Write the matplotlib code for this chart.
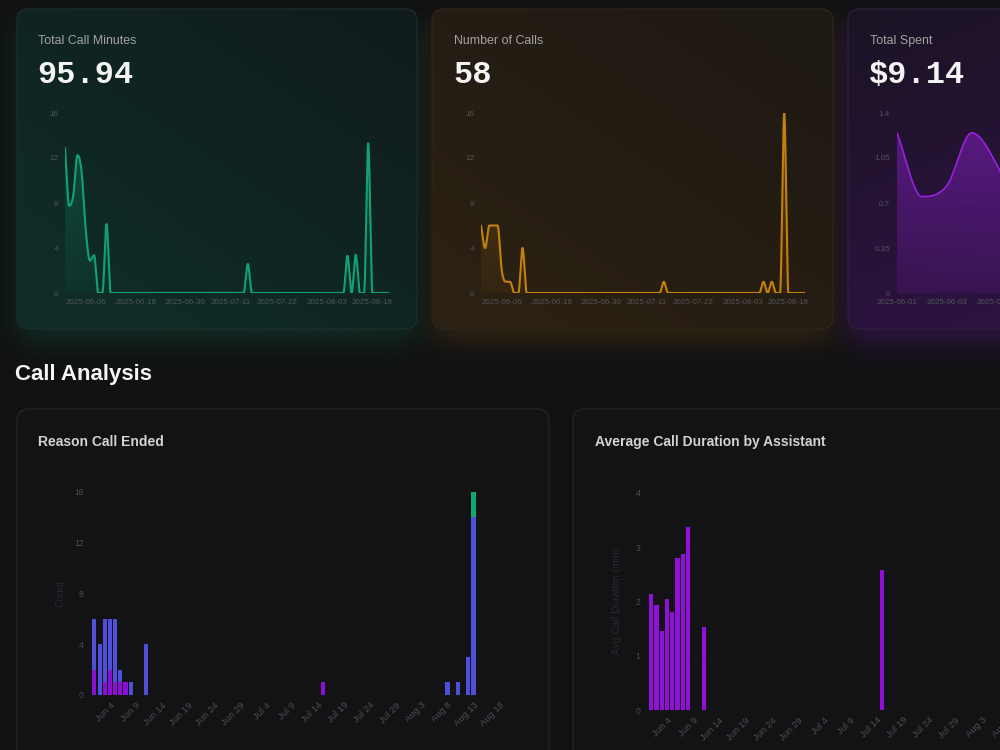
import numpy as np
import pandas as pd
import matplotlib
matplotlib.use('Agg')
import matplotlib.pyplot as plt
import matplotlib.dates as mdates
from matplotlib.colors import to_rgb
from matplotlib.patches import FancyBboxPatch, Polygon

plt.rcParams['font.family'] = ['Liberation Sans', 'DejaVu Sans']

# ---------------- data ----------------
# days on which calls happened (used by the two timeline cards)
call_days = ['2025-06-01', '2025-06-02', '2025-06-03', '2025-06-04', '2025-06-05',
             '2025-06-06', '2025-06-07', '2025-06-08', '2025-06-11', '2025-07-15',
             '2025-08-08', '2025-08-10', '2025-08-13']
minutes_per_day = [12.9, 7.75, 8.7, 12.25, 10.75, 5.6, 2.88, 3.36, 6.12, 2.58, 3.3, 3.4, 13.3]
calls_per_day = [6, 4, 6, 6, 6, 2, 1, 1, 4, 1, 1, 1, 16]

# category axis of the timeline cards
timeline = (list(pd.date_range('2025-06-01', '2025-08-13').strftime('%Y-%m-%d'))
            + list(pd.date_range('2025-08-18', '2025-08-22').strftime('%Y-%m-%d')))
timeline_ticks = ['2025-06-06', '2025-06-18', '2025-06-30', '2025-07-11',
                  '2025-07-22', '2025-08-03', '2025-08-18']

# spend card (one category per day with calls)
cost_days = ['2025-06-01', '2025-06-02', '2025-06-03', '2025-06-04', '2025-06-05',
             '2025-06-06', '2025-06-07', '2025-06-08', '2025-06-11', '2025-07-15',
             '2025-08-08', '2025-08-10', '2025-08-12', '2025-08-13']
cost_per_day = [1.245, 0.75, 0.835, 1.245, 1.0, 0.53, 0.27, 0.32, 0.58, 0.25,
                0.31, 0.32, 0.30, 1.18]

# reason call ended (stacked)
bar_days = ['2025-06-01', '2025-06-02', '2025-06-03', '2025-06-04', '2025-06-05',
            '2025-06-06', '2025-06-07', '2025-06-08', '2025-06-11', '2025-07-15',
            '2025-08-08', '2025-08-10', '2025-08-12', '2025-08-13']
customer_ended = [2, 0, 1, 2, 1, 1, 1, 0, 0, 1, 0, 0, 0, 0]
assistant_ended = [4, 4, 5, 4, 5, 1, 0, 1, 4, 0, 1, 1, 3, 14]
silence_timeout = [0, 0, 0, 0, 0, 0, 0, 0, 0, 0, 0, 0, 0, 2]

# average call duration
avg_days = ['2025-06-01', '2025-06-02', '2025-06-03', '2025-06-04', '2025-06-05',
            '2025-06-06', '2025-06-07', '2025-06-08', '2025-06-11', '2025-07-15']
avg_minutes = [2.13, 1.93, 1.45, 2.04, 1.80, 2.79, 2.88, 3.37, 1.53, 2.58]

bar_ticks = pd.date_range('2025-06-04', '2025-08-18', freq='5D')

# ---------------- helpers ----------------
W, H = 1000, 750
BG = '#111113'


def px_axes(x0, y0, x1, y1):
    ax = fig.add_axes([x0 / W, 1 - y1 / H, (x1 - x0) / W, (y1 - y0) / H])
    ax.set_facecolor('none')
    for s in ax.spines.values():
        s.set_visible(False)
    ax.tick_params(length=0)
    return ax


def monotone(x, y, n=30):
    # smooth path through the points (monotone cubic, like chart.js)
    x = np.asarray(x, float)
    y = np.asarray(y, float)
    d = np.diff(y) / np.diff(x)
    m = np.zeros_like(y)
    m[0], m[-1] = d[0], d[-1]
    for i in range(1, len(y) - 1):
        if np.sign(d[i - 1]) != np.sign(d[i]):
            m[i] = 0
        else:
            m[i] = (d[i - 1] + d[i]) / 2
    for i in range(len(d)):
        if abs(d[i]) < 1e-9:
            m[i] = m[i + 1] = 0
            continue
        a, b = m[i] / d[i], m[i + 1] / d[i]
        sq = a * a + b * b
        if sq > 9:
            t = 3 / np.sqrt(sq)
            m[i], m[i + 1] = a * t * d[i], b * t * d[i]
    xs, ys = [], []
    for i in range(len(d)):
        h = x[i + 1] - x[i]
        t = np.linspace(0, 1, n, endpoint=False)
        h00 = 2 * t**3 - 3 * t**2 + 1
        h10 = t**3 - 2 * t**2 + t
        h01 = -2 * t**3 + 3 * t**2
        h11 = t**3 - t**2
        xs.append(x[i] + t * h)
        ys.append(h00 * y[i] + h10 * h * m[i] + h01 * y[i + 1] + h11 * h * m[i + 1])
    xs.append([x[-1]])
    ys.append([y[-1]])
    return np.concatenate(xs), np.concatenate(ys)


def area_line(ax, x, y, color, ymax, a_top, a_bot, lw):
    sx, sy = monotone(x, y)
    ax.plot(sx, sy, color=color, lw=lw, zorder=3, solid_capstyle='round')
    poly = Polygon([(sx[0], 0)] + list(zip(sx, sy)) + [(sx[-1], 0)],
                   closed=True, facecolor='none', edgecolor='none')
    ax.add_patch(poly)
    grad = np.zeros((100, 1, 4))
    grad[:, :, :3] = to_rgb(color)
    grad[:, :, 3] = np.linspace(a_bot, a_top, 100)[:, None]
    im = ax.imshow(grad, aspect='auto', origin='lower',
                   extent=[sx[0], sx[-1], 0, ymax], zorder=2)
    im.set_clip_path(poly)


def glow(x0, y0, x1, y1, color, strength, s, dy):
    xa, xb = x0 - 3 * s, x1 + 3 * s
    ya, yb = y0 - 3 * s + dy, y1 + 3 * s + dy
    X, Y = np.meshgrid(np.linspace(xa, xb, 300), np.linspace(ya, yb, 200))
    fx = 0.5 * (np.tanh((X - x0) / s) - np.tanh((X - x1) / s))
    fy = 0.5 * (np.tanh((Y - y0 - dy) / s) - np.tanh((Y - y1 - dy) / s))
    img = np.zeros(X.shape + (4,))
    img[..., :3] = to_rgb(color)
    img[..., 3] = strength * fx * fy
    bg.imshow(img, extent=(xa, xb, ya, yb), origin='lower', aspect='auto',
              zorder=1, interpolation='bilinear')


def card(x0, y0, x1, y1, c_a, c_b, border, mode):
    patch = FancyBboxPatch((x0, y0), x1 - x0, y1 - y0,
                           boxstyle='round,pad=0,rounding_size=12',
                           facecolor='none', edgecolor=border, lw=1, zorder=3)
    bg.add_patch(patch)
    u, v = np.meshgrid(np.linspace(0, 1, 80), np.linspace(0, 1, 80))
    if mode == 'bl':
        t = np.clip(0.55 * (1 - u) + 0.65 * v, 0, 1)
    else:
        t = np.clip(0.4 * u + 0.8 * v, 0, 1)
    img = np.array(to_rgb(c_a)) * (1 - t[..., None]) + np.array(to_rgb(c_b)) * t[..., None]
    im = bg.imshow(img, extent=(x0, x1, y0, y1), origin='lower', aspect='auto',
                   zorder=2, interpolation='bilinear')
    im.set_clip_path(patch)


# ---------------- figure ----------------
fig = plt.figure(figsize=(10, 7.5), dpi=100, facecolor=BG)
bg = fig.add_axes([0, 0, 1, 1])
bg.set_facecolor(BG)
bg.axis('off')

# glows under the cards
glow(17, 9, 417, 329, '#0e6b4e', 0.30, 16, 14)
glow(432, 9, 833, 329, '#6b4a0c', 0.32, 16, 14)
glow(848, 9, 1248, 329, '#6a1a9e', 0.35, 16, 14)

card(17, 9, 417, 329, '#111b1b', '#0f2c26', '#1c2b29', 'bl')
card(432, 9, 833, 329, '#1e1913', '#2a2013', '#2c2519', 'bl')
card(848, 9, 1248, 329, '#1b1424', '#2e1344', '#2a1f36', 'br')

# bottom panels
for px0, px1 in [(17, 549), (573, 1105)]:
    bg.add_patch(FancyBboxPatch((px0, 409), px1 - px0, 400,
                                boxstyle='round,pad=0,rounding_size=12',
                                facecolor='#131315', edgecolor='#232327', lw=1, zorder=3))

# card texts
for x, title, value in [(38, 'Total Call Minutes', '95.94'),
                        (454, 'Number of Calls', '58'),
                        (870, 'Total Spent', '$9.14')]:
    bg.text(x, 44, title, fontsize=8.9, color='#a3a3a3', va='baseline', zorder=5)
    bg.text(x - 1, 83, value, fontsize=23, family=['Liberation Mono', 'DejaVu Sans Mono'],
            weight='bold', color='#f4f4f4', va='baseline', zorder=5)

bg.text(15, 380, 'Call Analysis', fontsize=16, weight='bold', color='#f5f5f5', va='baseline')
bg.text(38, 446, 'Reason Call Ended', fontsize=10, weight='bold', color='#d2d2d2', va='baseline', zorder=5)
bg.text(595, 446, 'Average Call Duration by Assistant', fontsize=10, weight='bold',
        color='#d2d2d2', va='baseline', zorder=5)
bg.text(60, 593, 'Count', rotation=90, fontsize=7.4, color='#29292e', ha='center', va='center', zorder=5)
bg.text(617, 601, 'Avg Call Duration (min)', rotation=90, fontsize=7.4, color='#29292e',
        ha='center', va='center', zorder=5)

bg.set_xlim(0, W)
bg.set_ylim(H, 0)

# ---------------- timeline cards ----------------
minutes_full = pd.Series(minutes_per_day, index=call_days).reindex(timeline, fill_value=0)
calls_full = pd.Series(calls_per_day, index=call_days).reindex(timeline, fill_value=0)
tick_pos = [timeline.index(t) for t in timeline_ticks]

tick_col = '#50555a'
for (x0, x1), series, color in [((65, 389), minutes_full, '#10a275'),
                                ((481, 805), calls_full, '#c4800c')]:
    ax = px_axes(x0, 113, x1, 293)
    area_line(ax, np.arange(len(timeline)), series.values, color, 16, 0.32, 0.06, 1.5)
    ax.set_xlim(0, len(timeline) - 1)
    ax.set_ylim(0, 16)
    ax.set_yticks([0, 4, 8, 12, 16])
    ax.set_xticks(tick_pos)
    ax.set_xticklabels(timeline_ticks)
    ax.tick_params(axis='x', pad=4.5, labelsize=5.8, labelcolor=tick_col)
    ax.tick_params(axis='y', pad=5, labelsize=5.8, labelcolor=tick_col)

ax = px_axes(897, 113, 1221, 293)
area_line(ax, np.arange(len(cost_days)), cost_per_day, '#9a20e0', 1.4, 0.5, 0.12, 1.2)
ax.set_xlim(0, len(cost_days) - 1)
ax.set_ylim(0, 1.4)
ax.set_yticks([0, 0.35, 0.7, 1.05, 1.4])
ax.set_yticklabels(['0', '0.35', '0.7', '1.05', '1.4'])
ax.set_xticks(range(0, len(cost_days), 2))
ax.set_xticklabels(cost_days[::2])
ax.tick_params(axis='x', pad=4.5, labelsize=5.8, labelcolor=tick_col)
ax.tick_params(axis='y', pad=5, labelsize=5.8, labelcolor=tick_col)

# ---------------- bottom charts ----------------
start = mdates.date2num(pd.Timestamp('2025-06-01'))
xlims = (start - 1.23, start + 79.07)
bar_col = '#4d4d52'


def style_bottom(ax, yticks):
    ax.set_xlim(*xlims)
    ax.set_yticks(yticks)
    ax.set_xticks(mdates.date2num(bar_ticks))
    ax.set_xticklabels([d.strftime('%b ') + str(d.day) for d in bar_ticks],
                       rotation=45, ha='right', va='top', rotation_mode='anchor')
    ax.tick_params(axis='x', pad=4, labelsize=6.8, labelcolor=bar_col)
    ax.tick_params(axis='y', pad=3, labelsize=6.2, labelcolor=bar_col)
    ax.grid(axis='y', color='#151518', lw=0.8)
    ax.set_axisbelow(True)


ax = px_axes(88, 695 - 16.8 * 12.69, 505, 695)
bx = mdates.date2num(pd.to_datetime(bar_days))
ca = np.array(customer_ended)
ae = np.array(assistant_ended)
ax.bar(bx, ca, width=0.8, color='#8a0ed4', zorder=3)
ax.bar(bx, ae, width=0.8, bottom=ca, color='#4f4fd9', zorder=3)
ax.bar(bx, silence_timeout, width=0.8, bottom=ca + ae, color='#0fa86c', zorder=3)
ax.set_ylim(0, 16.8)
style_bottom(ax, [0, 4, 8, 12, 16])

ax = px_axes(644.8, 710 - 4.1 * 54.33, 1066, 710)
ax.bar(mdates.date2num(pd.to_datetime(avg_days)), avg_minutes, width=0.8,
       color='#9010d8', zorder=3)
ax.set_ylim(0, 4.1)
style_bottom(ax, [0, 1, 2, 3, 4])

fig.savefig('out.png', dpi=100, facecolor=BG)
